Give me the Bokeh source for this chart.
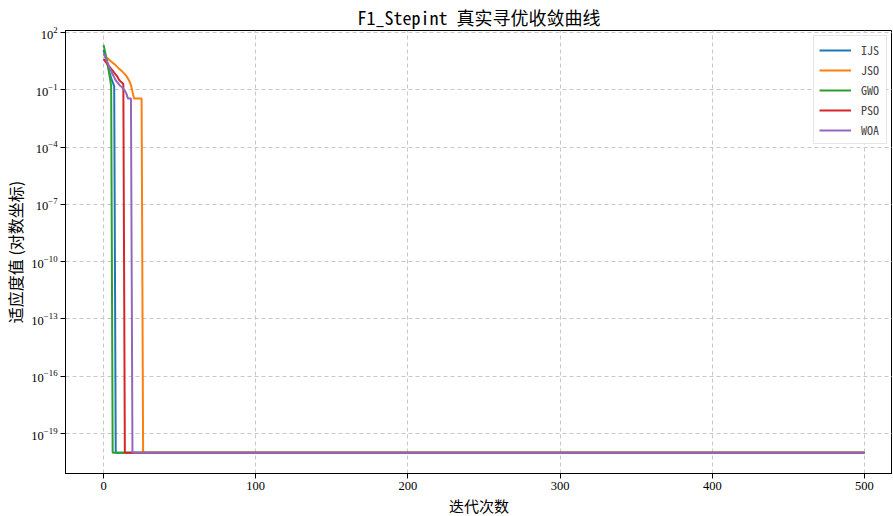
from bokeh.plotting import figure
from bokeh.models import Range1d, FixedTicker, Legend, LegendItem, Title
from bokeh.embed import file_html
from bokeh.resources import INLINE

# ---- data (best fitness per iteration; 1e-20 = converged floor) ----
FLOOR = 1e-20
ijs_iter = [0, 1, 2, 3, 4, 5, 6, 7, 8, 500]
ijs_val = [12.6, 6.3, 3.16, 1.58, 0.79, 0.40, 0.25, 0.158, FLOOR, FLOOR]

jso_iter = [0, 1, 2, 3, 4, 5, 6, 7, 8, 9, 10, 11, 12, 13, 14, 15, 16, 17, 18, 19,
            20, 21, 22, 23, 24, 25, 26, 500]
jso_val = [7.08, 6.03, 5.01, 4.17, 3.55, 3.02, 2.63, 2.24, 1.91, 1.58, 1.32, 1.12,
           0.955, 0.79, 0.66, 0.525, 0.398, 0.282, 0.178, 0.079, 0.0355, 0.0355,
           0.0355, 0.0355, 0.0355, 0.0355, FLOOR, FLOOR]

gwo_iter = [0, 1, 2, 3, 4, 5, 6, 500]
gwo_val = [22.4, 10.0, 3.98, 1.58, 0.50, 0.158, FLOOR, FLOOR]

pso_iter = [0, 1, 2, 3, 4, 5, 6, 7, 8, 9, 10, 11, 12, 13, 14, 500]
pso_val = [3.98, 3.16, 2.51, 2.0, 1.58, 1.26, 1.0, 0.79, 0.63, 0.50, 0.355, 0.28,
           0.24, 0.2, FLOOR, FLOOR]

woa_iter = [0, 1, 2, 3, 4, 5, 6, 7, 8, 9, 10, 11, 12, 13, 14, 15, 16, 17, 18, 19, 500]
woa_val = [7.94, 5.62, 3.55, 2.24, 1.41, 1.0, 0.63, 0.447, 0.316, 0.251, 0.2, 0.158,
           0.141, 0.112, 0.089, 0.063, 0.0355, 0.0355, 0.0355, FLOOR, FLOOR]

series_names = ["IJS", "JSO", "GWO", "PSO", "WOA"]
series_iters = [ijs_iter, jso_iter, gwo_iter, pso_iter, woa_iter]
series_vals = [ijs_val, jso_val, gwo_val, pso_val, woa_val]
series_colors = ["#1f77b4", "#ff7f0e", "#2ca02c", "#d62728", "#9467bd"]

x_ticks = [0, 100, 200, 300, 400, 500]
y_ticks = [1e2, 1e-1, 1e-4, 1e-7, 1e-10, 1e-13, 1e-16, 1e-19]

title_text = "F1_Stepint 真实寻优收敛曲线"
x_label_text = "迭代次数"
y_label_text = "适应度值 (对数坐标)"

CJK = "Noto Sans CJK SC"
MONO_CJK = "'Noto Sans Mono CJK SC', 'Noto Sans CJK SC'"
SERIF = "Liberation Serif"

p = figure(frame_width=827, frame_height=443, output_backend="svg",
           toolbar_location=None, y_axis_type="log",
           x_range=Range1d(-25, 518.4), y_range=Range1d(10 ** -21.09, 10 ** 2.105),
           min_border_left=50, min_border_top=25, min_border_bottom=0,
           min_border_right=0)

p.title.text = title_text
p.title.align = "center"
p.title.text_font = MONO_CJK
p.title.text_font_size = "18px"
p.title.text_font_style = "normal"
p.title.text_color = "black"
p.title.offset = 2
p.title.standoff = 2

p.outline_line_color = "black"
p.outline_line_width = 1
p.background_fill_color = "white"

for ax in (p.xaxis[0], p.yaxis[0]):
    ax.axis_line_color = "black"
    ax.major_tick_line_color = "black"
    ax.major_tick_out = 5
    ax.major_tick_in = 0
    ax.minor_tick_line_color = None
    ax.major_label_text_font = SERIF
    ax.major_label_text_font_size = "12.5px"
    ax.major_label_text_color = "black"

p.xaxis.ticker = FixedTicker(ticks=x_ticks)
p.yaxis.ticker = FixedTicker(ticks=y_ticks, minor_ticks=[])
p.xaxis.major_label_standoff = 3
p.yaxis.major_label_standoff = 3

p.yaxis.axis_label = y_label_text
p.yaxis.axis_label_text_font = CJK
p.yaxis.axis_label_text_font_size = "16px"
p.yaxis.axis_label_text_font_style = "normal"
p.yaxis.axis_label_text_color = "black"
p.yaxis.axis_label_standoff = 1

xlab = Title(text=x_label_text, align="center", text_font=CJK,
             text_font_size="15px", text_font_style="normal", text_color="black",
             offset=0, standoff=0)
p.add_layout(xlab, "below")

p.grid.grid_line_color = "#c8c8c8"
p.grid.grid_line_dash = "4 3"
p.grid.grid_line_width = 1

items = []
for name, xs, ys, col in zip(series_names, series_iters, series_vals, series_colors):
    r = p.line(xs, ys, line_color=col, line_width=2)
    items.append(LegendItem(label=name, renderers=[r]))

leg = Legend(items=items, location="top_right")
leg.label_text_font = MONO_CJK
leg.label_text_font_size = "12px"
leg.label_standoff = 10
leg.glyph_width = 32
leg.glyph_height = 14
leg.spacing = 3
leg.padding = 5
leg.margin = 5
leg.border_line_color = "#cccccc"
leg.background_fill_alpha = 0.9
p.add_layout(leg)

open("out.html", "w").write(file_html(p, INLINE))
